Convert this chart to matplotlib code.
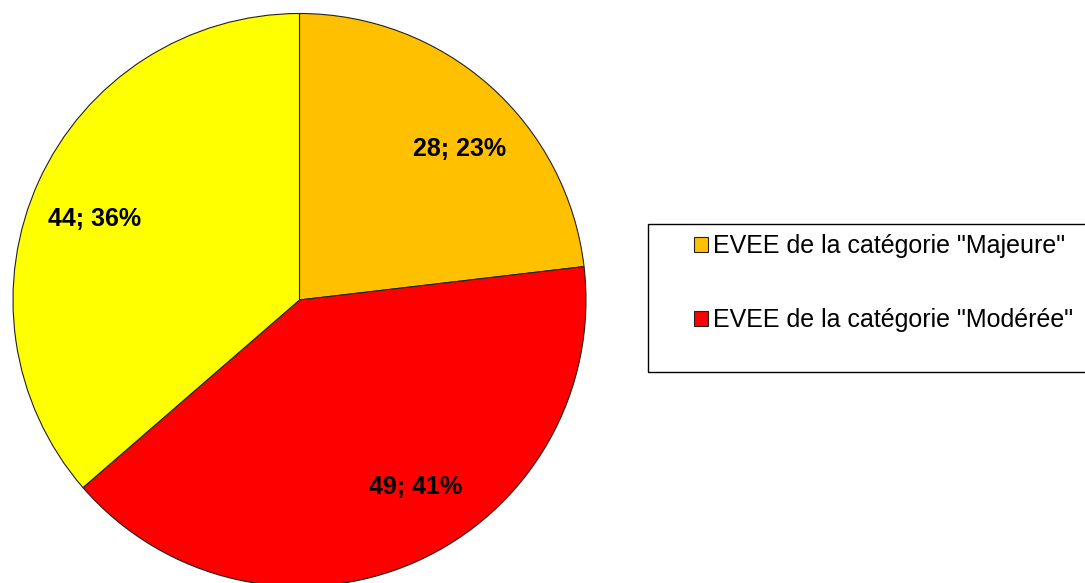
import matplotlib
matplotlib.use('Agg')
import matplotlib.pyplot as plt
import matplotlib.patches as patches
import numpy as np

plt.rcParams['font.family'] = ['Liberation Sans', 'DejaVu Sans']

# slices, clockwise from 12 o'clock
counts = [28, 49, 44]
percents = [23, 41, 36]
colors = ['#FFC000', '#FF0000', '#FFFF00']
legend_labels = ['EVEE de la catégorie "Majeure"', 'EVEE de la catégorie "Modérée"']

W, H = 1085, 583
fig = plt.figure(figsize=(W / 100, H / 100), dpi=100)

# pie axes: center ~ (299.5, 300) px, radius ~ 286.5 px
r_px = 286.5
cx, cy = 299.5, 300
ax = fig.add_axes([(cx - r_px) / W, (H - cy - r_px) / H, 2 * r_px / W, 2 * r_px / H])

slice_labels = [f"{c}; {p}%" for c, p in zip(counts, percents)]
wedges, texts = ax.pie(counts, colors=colors, startangle=90, counterclock=False,
                       labels=slice_labels, labeldistance=0.77,
                       wedgeprops=dict(edgecolor='#222222', linewidth=0.8),
                       textprops=dict(fontsize=18, fontweight='bold', color='black',
                                      ha='center', va='center'))

# nudge labels a bit along the arc, the way Excel places them (degrees)
nudge = [-5, 8, 3]
for t, w, d in zip(texts, wedges, nudge):
    a = np.deg2rad((w.theta1 + w.theta2) / 2 + d)
    t.set_position((0.77 * np.cos(a), 0.77 * np.sin(a)))

ax.set_xlim(-1, 1)
ax.set_ylim(-1, 1)
ax.set_aspect('equal')

# legend frame (right side runs past the figure edge)
frame = patches.Rectangle((648 / W, 1 - 372 / H), 500 / W, 148 / H,
                          transform=fig.transFigure, facecolor='white',
                          edgecolor='black', linewidth=1.0)
fig.add_artist(frame)

fig.legend(wedges[:2], legend_labels, loc='upper left',
           bbox_to_anchor=(694 / W, 1 - 234 / H), borderaxespad=0, borderpad=0,
           frameon=False, fontsize=18, handlelength=0.55, handleheight=0.55,
           handletextpad=0.2, labelspacing=2.0)

fig.savefig('out.png', dpi=100)
